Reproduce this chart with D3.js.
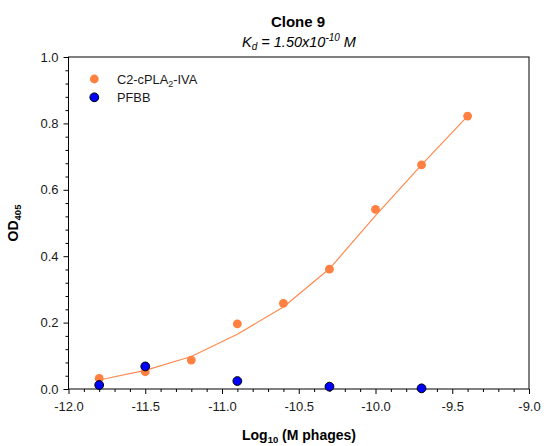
<!DOCTYPE html>
<html>
<head>
<meta charset="utf-8">
<script src="https://cdn.jsdelivr.net/npm/d3@7"></script>
<style>
  html, body { margin: 0; padding: 0; background: #fff; }
  svg { display: block; font-family: "Liberation Sans", Arial, sans-serif; }
</style>
</head>
<body>
<svg id="chart" width="544" height="446"></svg>
<script>
// ---- data ----
const concX = [-11.8, -11.5, -11.2, -10.9, -10.6, -10.3, -10.0, -9.7, -9.4];
const c2Values = [0.032, 0.052, 0.087, 0.196, 0.258, 0.361, 0.541, 0.675, 0.822];
const c2Fit = [0.027, 0.056, 0.098, 0.165, 0.247, 0.362, 0.522, 0.675, 0.822];
const pfbbX = [-11.8, -11.5, -10.9, -10.3, -9.7];
const pfbbValues = [0.012, 0.068, 0.024, 0.007, 0.002];
const xTickLabels = ["-12.0", "-11.5", "-11.0", "-10.5", "-10.0", "-9.5", "-9.0"];
const yTickLabels = ["0.0", "0.2", "0.4", "0.6", "0.8", "1.0"];

(function () {
const svg = d3.select("#chart");
const pLeft = 68.5, pRight = 529, pTop = 57, pBottom = 389;

const x = d3.scaleLinear().domain([-12, -9]).range([pLeft, pRight]);
const y = d3.scaleLinear().domain([0, 1]).range([pBottom, pTop]);

const textColor = "#1a1a1a";

// minor ticks
const xMinor = d3.range(0, 31).map(i => -12 + i * 0.1).filter((v, i) => i % 5 !== 0);
const yMinor = d3.range(0, 26).map(i => i * 0.04).filter((v, i) => i % 5 !== 0);

svg.append("g").attr("transform", `translate(0,${pBottom})`)
  .call(d3.axisBottom(x).tickValues(xMinor).tickSize(3).tickFormat(""))
  .call(g => g.select(".domain").remove())
  .call(g => g.selectAll("line").attr("stroke", "#000"));
svg.append("g").attr("transform", `translate(${pLeft},0)`)
  .call(d3.axisLeft(y).tickValues(yMinor).tickSize(3).tickFormat(""))
  .call(g => g.select(".domain").remove())
  .call(g => g.selectAll("line").attr("stroke", "#000"));

// major ticks
const xMajor = xTickLabels.map(Number);
svg.append("g").attr("transform", `translate(0,${pBottom})`)
  .call(d3.axisBottom(x).tickValues(xMajor).tickSize(5).tickPadding(8)
    .tickFormat((d, i) => xTickLabels[i]))
  .call(g => g.select(".domain").remove())
  .call(g => g.selectAll("line").attr("stroke", "#000"))
  .call(g => g.selectAll("text").attr("font-size", 13).attr("fill", textColor)
    .attr("font-family", "Liberation Sans, Arial, sans-serif"));

const yMajor = yTickLabels.map(Number);
svg.append("g").attr("transform", `translate(${pLeft},0)`)
  .call(d3.axisLeft(y).tickValues(yMajor).tickSize(5).tickPadding(5)
    .tickFormat((d, i) => yTickLabels[i]))
  .call(g => g.select(".domain").remove())
  .call(g => g.selectAll("line").attr("stroke", "#000"))
  .call(g => g.selectAll("text").attr("font-size", 13).attr("fill", textColor)
    .attr("font-family", "Liberation Sans, Arial, sans-serif"));

// frame
svg.append("rect")
  .attr("x", pLeft).attr("y", pTop)
  .attr("width", pRight - pLeft).attr("height", pBottom - pTop)
  .attr("fill", "none").attr("stroke", "#000").attr("stroke-width", 1);

// fit line
const line = d3.line().x((d, i) => x(concX[i])).y(d => y(d));
svg.append("path").datum(c2Fit)
  .attr("d", line)
  .attr("fill", "none").attr("stroke", "#ff8a50").attr("stroke-width", 1.2);

// points
const orange = "#ff8040";
svg.append("g").selectAll("circle").data(c2Values).join("circle")
  .attr("cx", (d, i) => x(concX[i])).attr("cy", d => y(d))
  .attr("r", 4.4).attr("fill", orange);

svg.append("g").selectAll("circle").data(pfbbValues).join("circle")
  .attr("cx", (d, i) => x(pfbbX[i])).attr("cy", d => y(d))
  .attr("r", 4.4).attr("fill", "#0000ff").attr("stroke", "#000").attr("stroke-width", 1);

// legend
const legend = svg.append("g");
legend.append("circle").attr("cx", 94.3).attr("cy", 79).attr("r", 4.4).attr("fill", orange);
legend.append("circle").attr("cx", 94.3).attr("cy", 97.3).attr("r", 4.4)
  .attr("fill", "#0000ff").attr("stroke", "#000").attr("stroke-width", 1);
const l1 = legend.append("text").attr("x", 117).attr("y", 83.5)
  .attr("font-size", 12.8).attr("fill", textColor);
l1.append("tspan").text("C2-cPLA");
l1.append("tspan").attr("font-size", 9).attr("dy", 3).text("2");
l1.append("tspan").attr("dy", -3).text("-IVA");
legend.append("text").attr("x", 117).attr("y", 101.8)
  .attr("font-size", 12.8).attr("fill", textColor).text("PFBB");

// titles
svg.append("text").attr("x", 298).attr("y", 26.5).attr("text-anchor", "middle")
  .attr("font-size", 15).attr("font-weight", "bold").attr("fill", "#000").text("Clone 9");

const sub = svg.append("text").attr("x", 299).attr("y", 46.5).attr("text-anchor", "middle")
  .attr("font-size", 14.5).attr("font-style", "italic").attr("fill", "#000");
sub.append("tspan").text("K");
sub.append("tspan").attr("font-size", 10).attr("dy", 3).text("d");
sub.append("tspan").attr("dy", -3).text(" = 1.50x10");
sub.append("tspan").attr("font-size", 10).attr("dy", -6).text("-10");
sub.append("tspan").attr("dy", 6).text(" M");

const xt = svg.append("text").attr("x", 299).attr("y", 440).attr("text-anchor", "middle")
  .attr("font-size", 14).attr("font-weight", "bold").attr("fill", "#000");
xt.append("tspan").text("Log");
xt.append("tspan").attr("font-size", 9.5).attr("dy", 3).text("10");
xt.append("tspan").attr("dy", -3).text(" (M phages)");

const yt = svg.append("text")
  .attr("transform", `translate(18,${(pTop + pBottom) / 2}) rotate(-90)`)
  .attr("text-anchor", "middle")
  .attr("font-size", 14).attr("font-weight", "bold").attr("fill", "#000");
yt.append("tspan").text("OD");
yt.append("tspan").attr("font-size", 9.5).attr("dy", 3).text("405");
})();
</script>
</body>
</html>
